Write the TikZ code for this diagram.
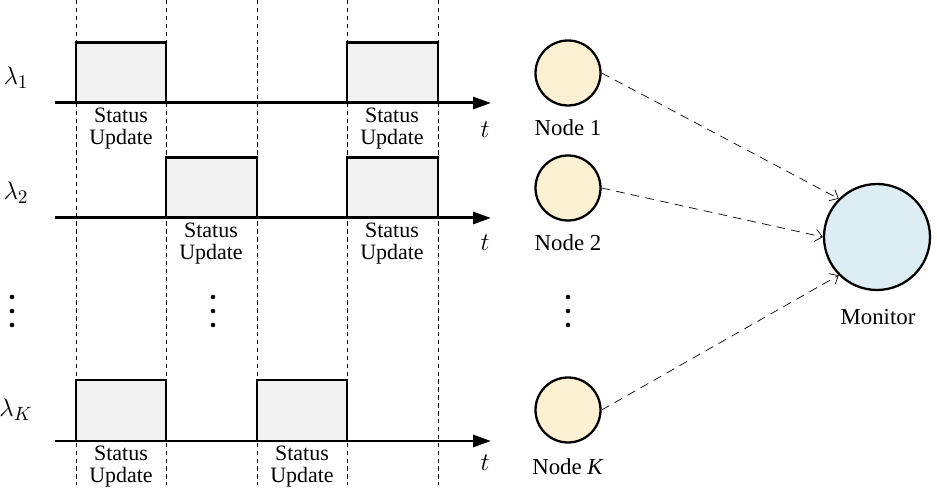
\documentclass[tikz,border=0pt]{standalone}
\usepackage{fontspec}
\setmainfont{Liberation Serif}
\usetikzlibrary{arrows.meta,positioning}
\definecolor{nodefill}{HTML}{FBF1D2}
\definecolor{monfill}{HTML}{DCEEF4}
\definecolor{slotfill}{HTML}{F2F2F2}

\begin{document}
\begin{tikzpicture}[x=0.02cm,y=-0.02cm,
  axis/.style={line width=1.7pt,-{Triangle[length=0.36cm,width=0.24cm]}},
  slot/.style={draw,line width=1.7pt,fill=slotfill},
  guide/.style={dash pattern=on 2.5pt off 2pt,line width=0.4pt},
  upd/.style={align=center,inner sep=0pt,font=\fontsize{12.5}{12.5}\selectfont},
  txt/.style={inner sep=0pt,font=\fontsize{13}{13}\selectfont},
  sym/.style={inner sep=0pt,font=\fontsize{15}{15}\selectfont},
  src/.style={circle,draw,line width=1.3pt,fill=nodefill,minimum size=1.3cm,inner sep=0pt},
  mon/.style={circle,draw,line width=1.3pt,fill=monfill,minimum size=2.12cm,inner sep=0pt},
  link/.style={dash pattern=on 5pt off 3.5pt,line width=0.4pt,-{Straight Barb[length=4pt,width=7pt]}}]
\useasboundingbox (0,0) rectangle (937,492);

% time slots
\foreach \x in {76,166,257,347,438}
  \draw[guide] (\x,0) -- (\x,485);
\draw[slot] (76,103) rectangle (166,43);
\draw[slot] (347,103) rectangle (438,43);
\draw[slot] (166,218) rectangle (257,158);
\draw[slot] (347,218) rectangle (438,158);
\draw[slot] (76,441) rectangle (166,380);
\draw[slot] (257,441) rectangle (347,380);

\coordinate (a1) at (55,103);  \coordinate (b1) at (491,103);
\coordinate (a2) at (55,218);  \coordinate (b2) at (491,218);
\coordinate (aK) at (55,441);  \coordinate (bK) at (491,441);
\draw[axis] (a1) -- (b1);
\draw[axis] (a2) -- (b2);
\draw[axis] (aK) -- (bK);

\node[sym] (l1) at (16,78)  {$\lambda_1$};
\node[sym] (l2) at (16,193) {$\lambda_2$};
\node[sym] (lK) at (16,410) {$\lambda_K$};
\node[sym] (t1) at (485,130) {$t$};
\node[sym] (t2) at (485,243) {$t$};
\node[sym] (tK) at (485,463) {$t$};

\node[upd] (u11) at (121,129) {Status\\Update};
\node[upd] (u12) at (392,129) {Status\\Update};
\node[upd] (u21) at (211,244) {Status\\Update};
\node[upd] (u22) at (392,244) {Status\\Update};
\node[upd] (uK1) at (121,467) {Status\\Update};
\node[upd] (uK2) at (302,467) {Status\\Update};

% dots
\foreach \x in {12,213,568}
  \foreach \y in {297,311,325}
    \fill (\x,\y) circle (2.3);

% nodes and monitor
\node[src] (n1) at (568,73) {};
\node[src] (n2) at (568,188) {};
\node[src] (nK) at (568,410) {};
\node[mon] (m) at (877,237) {};
\node[txt] (n1t) at (568,128) {Node 1};
\node[txt] (n2t) at (568,243) {Node 2};
\node[txt] (nKt) at (568,467) {Node \textit{K}};
\node[txt] (mt) at (878,317) {Monitor};

\draw[link] (n1.east) -- (m.north west);
\draw[link] (n2.east) -- (m.west);
\draw[link] (nK.east) -- (m.south west);
\end{tikzpicture}
\end{document}
